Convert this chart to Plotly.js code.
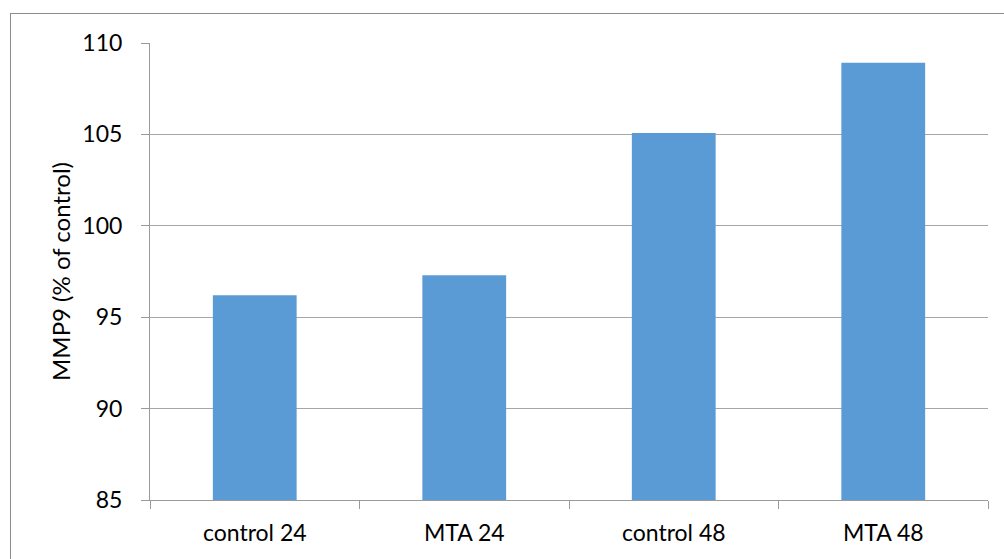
<!DOCTYPE html>
<html>
<head>
<meta charset="utf-8">
<script src="https://cdn.plot.ly/plotly-3.0.1.min.js"></script>
<style>
html,body{margin:0;padding:0;background:#fff;}
#wrap{position:relative;width:1004px;height:559px;overflow:hidden;}
#chart{position:absolute;left:0;top:0;width:1004px;height:559px;}
#frame{position:absolute;left:10px;top:13px;width:1010px;height:570px;border:1px solid #8c8c8c;pointer-events:none;}
</style>
</head>
<body>
<div id="wrap">
<div id="chart"></div>
<div id="frame"></div>
</div>
<script>
const categories = ["control 24", "MTA 24", "control 48", "MTA 48"];
const values = [96.2, 97.3, 105.08, 108.92];
const yTicks = [85, 90, 95, 100, 105, 110];

const fontFam = "Lato, 'Open Sans', sans-serif";

Plotly.newPlot('chart', [{
  type: 'bar',
  x: categories,
  y: values,
  marker: {color: '#5b9bd5'},
  hoverinfo: 'x+y'
}], {
  width: 1004,
  height: 559,
  margin: {l: 150, r: 16, t: 43, b: 59},
  paper_bgcolor: 'rgba(0,0,0,0)',
  plot_bgcolor: '#ffffff',
  bargap: 0.6,
  showlegend: false,
  font: {family: fontFam, size: 23, color: '#000'},
  xaxis: {
    type: 'category',
    showline: true,
    linecolor: '#9a9a9a',
    linewidth: 1,
    ticks: 'outside',
    tickson: 'boundaries',
    ticklen: 8,
    tickcolor: '#9a9a9a',
    showgrid: false,
    ticklabelstandoff: 12,
    tickfont: {family: fontFam, size: 23, color: '#000'}
  },
  yaxis: {
    range: [85, 110],
    tickvals: yTicks,
    ticktext: yTicks.map(String),
    showline: true,
    linecolor: '#9a9a9a',
    ticks: 'outside',
    ticklen: 8,
    tickcolor: '#9a9a9a',
    showgrid: true,
    gridcolor: '#a6a6a6',
    gridwidth: 1,
    zeroline: false,
    ticklabelstandoff: 14,
    tickfont: {family: fontFam, size: 23, color: '#000'},
    title: {text: 'MMP9 (% of control)', font: {family: fontFam, size: 24, color: '#000'}, standoff: 4}
  }
}, {displayModeBar: false, staticPlot: true});
</script>
</body>
</html>
